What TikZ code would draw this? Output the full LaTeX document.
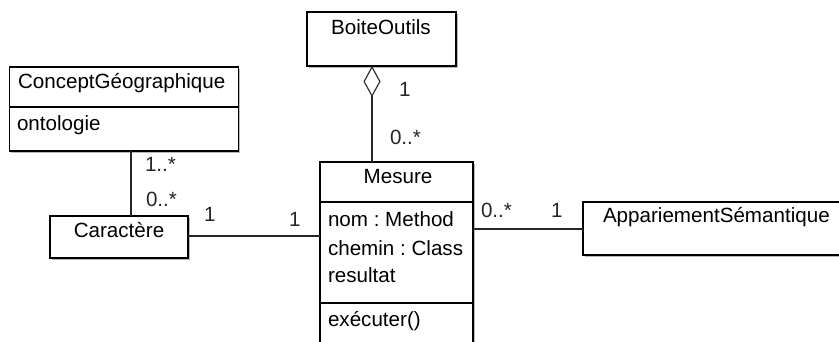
\documentclass[tikz,border=0pt]{standalone}
\usepackage{fontspec}
\setmainfont{Liberation Sans}
\usetikzlibrary{arrows.meta,shadows}
\begin{document}
\frenchspacing
\begin{tikzpicture}[x=1pt,y=-1pt,
  box/.style={draw=black,line width=1.2pt,fill=white,rectangle,inner sep=0pt,outer sep=0pt,anchor=north west,
    drop shadow={shadow xshift=1.6pt,shadow yshift=-1.6pt,fill=black!45,opacity=0.6}},
  txt/.style={inner sep=0pt,outer sep=0pt,font=\fontsize{20.6}{24}\selectfont\frenchspacing},
  lbl/.style={inner sep=0pt,outer sep=0pt,font=\fontsize{20.6}{24}\selectfont,text=black!85},
  conn/.style={line width=1.1pt,draw=black!85}]
\useasboundingbox (0,0) rectangle (839,342);
\fill[white] (0,0) rectangle (839,342);
% boxes
\node[box,minimum width=149pt,minimum height=54pt] (bo) at (307,12) {};
\node[box,minimum width=229pt,minimum height=84pt] (cg) at (9.5,67) {};
\node[box,minimum width=138pt,minimum height=42pt] (car) at (50,216) {};
\node[box,minimum width=153pt,minimum height=200pt] (mes) at (320,162) {};
\node[box,minimum width=270pt,minimum height=53pt] (app) at (583,202) {};
% compartments
\draw[line width=1.2pt] (cg.west |- 0,107) -- (cg.east |- 0,107);
\draw[line width=1.2pt] (mes.west |- 0,202) -- (mes.east |- 0,202);
\draw[line width=1.2pt] (mes.west |- 0,303) -- (mes.east |- 0,303);
% texts
\node[txt,anchor=base] (tbo) at (381,35) {BoiteOutils};
\node[txt,anchor=base west] (tcg) at (18,89) {ConceptGéographique};
\node[txt,anchor=base west] (tonto) at (17,131) {ontologie};
\node[txt,anchor=base] (tcar) at (119,238) {Caractère};
\node[txt,anchor=base] (tmes) at (398,184) {Mesure};
\node[txt,anchor=base west] (ta1) at (328,227) {nom : Method};
\node[txt,anchor=base west] (ta2) at (328,255) {chemin : Class};
\node[txt,anchor=base west] (ta3) at (328,283) {resultat};
\node[txt,anchor=base west] (top1) at (328,326) {exécuter()};
\node[txt,anchor=base west] (tapp) at (603,223) {AppariementSémantique};
% connectors
\draw[conn,{Diamond[open,length=31pt,width=17pt,line width=1.1pt]}-] (bo.south -| 372,0) -- (mes.north -| 372,0);
\draw[conn] (cg.south -| 131,0) -- (car.north -| 131,0);
\draw[conn] (car.east |- 0,236) -- (mes.west |- 0,236);
\draw[conn] (mes.east |- 0,229) -- (app.west |- 0,229);
% multiplicities
\node[lbl,anchor=base west] (m1) at (399,97) {1};
\node[lbl,anchor=base west] (m2) at (390,145) {0..*};
\node[lbl,anchor=base west] (m3) at (145,172) {1..*};
\node[lbl,anchor=base west] (m4) at (146,207) {0..*};
\node[lbl,anchor=base west] (m5) at (204,222) {1};
\node[lbl,anchor=base west] (m6) at (289,226) {1};
\node[lbl,anchor=base west] (m7) at (481,218) {0..*};
\node[lbl,anchor=base west] (m8) at (551,218) {1};
\end{tikzpicture}
\end{document}
